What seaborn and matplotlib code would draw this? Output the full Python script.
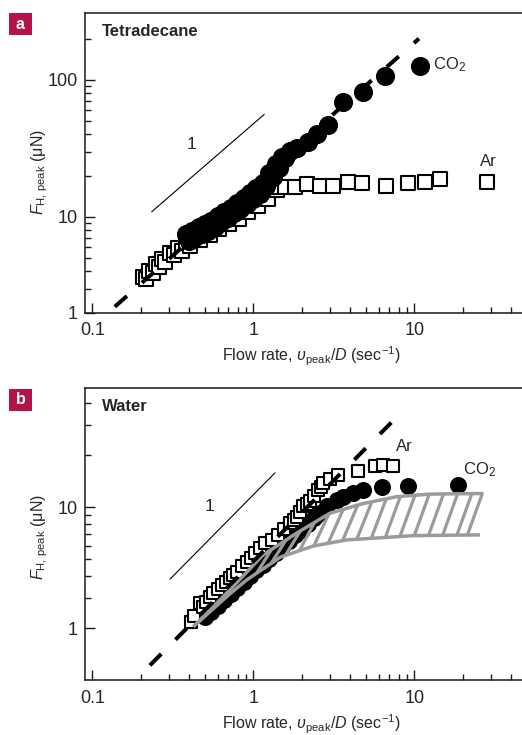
import numpy as np
import matplotlib
matplotlib.use("Agg")
import matplotlib.pyplot as plt
import matplotlib.ticker as mticker
from matplotlib.patches import Rectangle
import seaborn as sns

# ---------------- data ----------------
# panel a : tetradecane
co2_a_x = [0.380, 0.398, 0.417, 0.437, 0.457, 0.479, 0.501, 0.525, 0.550, 0.575,
           0.603, 0.631, 0.661, 0.692, 0.724, 0.759, 0.794, 0.832, 0.871, 0.912,
           0.955, 1.00, 1.047, 1.096, 1.148, 1.202, 1.259, 1.318, 1.380, 1.445,
           1.514, 1.585, 1.698, 1.86, 2.2, 2.48, 2.9, 3.6, 4.8, 6.6, 10.8]
co2_a_y = [7.50, 6.71, 7.93, 7.10, 8.38, 7.50, 8.85, 7.94, 9.40, 8.45,
           10.1, 9.14, 10.9, 9.86, 11.7, 10.6, 12.7, 11.5, 13.7, 12.4,
           14.9, 13.6, 16.3, 14.8, 17.7, 16.8, 20.9, 19.7, 24.3, 22.6,
           27.2, 26.9, 30.2, 32, 35, 40, 47, 69, 82, 107, 126]

ar_a_x = [0.207, 0.216, 0.226, 0.237, 0.248, 0.260, 0.272, 0.285, 0.302, 0.320,
          0.339, 0.359, 0.380, 0.407, 0.437, 0.468, 0.501, 0.537, 0.575, 0.617,
          0.661, 0.708, 0.759, 0.813, 0.871, 0.933, 1.00, 1.07, 1.15, 1.23,
          1.32, 1.41, 1.40, 1.57, 1.82, 2.15, 2.60, 3.14, 3.89, 4.71, 6.67,
          9.18, 11.6, 14.5, 28.2]
ar_a_y = [3.67, 3.52, 4.06, 3.90, 4.51, 4.31, 4.93, 4.70, 5.45, 5.25,
          5.96, 5.64, 6.41, 6.12, 7.05, 6.75, 7.76, 7.41, 8.49, 8.11,
          9.29, 8.87, 10.2, 9.73, 11.3, 10.9, 12.6, 12.1, 14.1, 13.6,
          15.7, 15.8, 16.4, 16.4, 16.6, 17.3, 16.8, 16.8, 18.1, 17.8, 16.8,
          17.8, 18.1, 18.8, 18.1]

fit_a_x = [0.138, 10.7]
fit_a_y = [2.21, 200]
slope_a_x = [0.234, 1.17]
slope_a_y = [10.9, 56]

# panel b : water
co2_b_x = [0.501, 0.550, 0.603, 0.661, 0.724, 0.794, 0.871, 0.955, 1.047, 1.148,
           1.259, 1.380, 1.514, 1.660, 1.820, 1.995, 2.188, 2.399, 2.60, 2.86,
           3.30, 3.62, 4.18, 4.82, 6.27, 9.18, 18.8]
co2_b_y = [2.31, 2.49, 2.70, 2.92, 3.15, 3.41, 3.68, 3.98, 4.31, 4.66,
           5.03, 5.44, 5.89, 6.36, 6.87, 7.43, 8.04, 8.69, 9.23, 10.1,
           11.0, 11.5, 12.1, 12.6, 13.1, 13.3, 13.5]

ar_b_x = [0.409, 0.43, 0.467, 0.489, 0.51, 0.538, 0.565, 0.60, 0.637, 0.68,
          0.716, 0.75, 0.789, 0.85, 0.910, 0.97, 1.03, 1.10, 1.18, 1.30,
          1.43, 1.56, 1.69, 1.78, 1.86, 1.95, 2.05, 2.15, 2.25, 2.40,
          2.54, 2.62, 2.72, 3.0, 3.37, 4.49, 5.70, 6.42, 7.41]
ar_b_y = [2.18, 2.35, 2.79, 2.66, 2.85, 3.04, 3.18, 3.35, 3.56, 3.70,
          3.89, 4.05, 4.25, 4.55, 4.85, 5.10, 5.42, 5.80, 6.19, 6.50,
          6.92, 7.50, 8.09, 8.40, 8.83, 9.40, 10.1, 10.4, 10.8, 11.6,
          12.6, 13.1, 13.8, 14.6, 15.4, 16.1, 17.2, 17.6, 17.2]

fit_b_x = [0.228, 8.15]
fit_b_y = [1.22, 34.6]
slope_b_x = [0.304, 1.365]
slope_b_y = [3.84, 15.8]

# grey hatched band (upper / lower bound)
band_up_x = [0.424, 0.716, 1.15, 1.86, 2.99, 4.82, 7.78, 12.5, 26.9]
band_up_y = [2.04, 3.33, 5.30, 7.08, 9.23, 10.5, 11.5, 11.9, 12.0]
band_lo_x = [0.424, 0.716, 0.91, 1.47, 2.36, 3.80, 9.86, 25.6]
band_lo_y = [2.04, 3.16, 3.80, 5.14, 5.97, 6.47, 6.85, 6.92]
hatch_top_x = [1.30, 1.60, 1.96, 2.40, 2.95, 3.62, 4.45, 5.45, 6.70, 8.20,
               10.1, 12.4, 15.2, 18.6, 22.8, 26.5]

x_major = [0.1, 1, 10]
x_major_labels = ["0.1", "1", "10"]
x_minor = [0.2, 0.3, 0.4, 0.5, 0.6, 0.7, 0.8, 0.9, 2, 3, 4, 5, 6, 7, 8, 9,
           20, 30, 40]
ya_major = [2, 10, 100]
ya_major_labels = ["1", "10", "100"]
ya_minor = [3, 4, 5, 6, 7, 8, 9, 20, 30, 40, 50, 60, 70, 80, 90, 200]
yb_major = [2, 10]
yb_major_labels = ["1", "10"]
yb_minor = [3, 4, 5, 6, 7, 8, 9, 20, 30, 40]

# ---------------- style ----------------
sns.set_style("ticks")
plt.rcParams["font.family"] = ["Liberation Sans", "DejaVu Sans"]
plt.rcParams["mathtext.fontset"] = "custom"
plt.rcParams["mathtext.rm"] = "Liberation Sans"
plt.rcParams["mathtext.it"] = "Liberation Sans:italic"
plt.rcParams["mathtext.bf"] = "Liberation Sans:bold"

RED = "#b3134a"
GREY = "#9b9b9b"
DARK = "#1a1a1a"

fig = plt.figure(figsize=(5.22, 7.35), dpi=100)
ax_a = fig.add_axes([0.1628, 0.5746, 0.8372, 0.4078])
ax_b = fig.add_axes([0.1628, 0.0744, 0.8372, 0.3981])


def style_axis(ax, ylim, ymaj, ymaj_lab, ymin):
    ax.set_xscale("log")
    ax.set_yscale("log")
    ax.set_xlim(0.0901, 46.7)
    ax.set_ylim(*ylim)
    ax.xaxis.set_major_locator(mticker.FixedLocator(x_major))
    ax.xaxis.set_major_formatter(mticker.FixedFormatter(x_major_labels))
    ax.xaxis.set_minor_locator(mticker.FixedLocator(x_minor))
    ax.xaxis.set_minor_formatter(mticker.NullFormatter())
    ax.yaxis.set_major_locator(mticker.FixedLocator(ymaj))
    ax.yaxis.set_major_formatter(mticker.FixedFormatter(ymaj_lab))
    ax.yaxis.set_minor_locator(mticker.FixedLocator(ymin))
    ax.yaxis.set_minor_formatter(mticker.NullFormatter())
    ax.tick_params(which="both", direction="in", width=1.0, color=DARK,
                   top=False, right=False)
    ax.tick_params(which="major", length=7, labelsize=13, pad=5)
    ax.tick_params(axis="x", which="major", pad=7)
    ax.tick_params(which="minor", length=4.5)
    for s in ["left", "bottom", "top"]:
        ax.spines[s].set_linewidth(1.1)
        ax.spines[s].set_color(DARK)
    ax.spines["right"].set_visible(False)
    ax.set_xlabel(r"Flow rate, $\mathit{\upsilon}_{\mathrm{peak}}/\mathit{D}$ (sec$^{-1}$)",
                  fontsize=11.5)
    ax.set_ylabel(r"$\mathit{F}_{\mathrm{H,\,peak}}$ ($\mathrm{\mu}$N)", fontsize=11.5)


# ---------------- panel a ----------------
style_axis(ax_a, (2, 308), ya_major, ya_major_labels, ya_minor)
# here the CO2 band lies over the Ar squares
sns.scatterplot(x=ar_a_x, y=ar_a_y, ax=ax_a, marker="s", s=100,
                facecolor="white", edgecolor="black", linewidth=1.5, zorder=3)
sns.scatterplot(x=co2_a_x, y=co2_a_y, ax=ax_a, marker="o", s=190,
                color="black", edgecolor="black", linewidth=0, zorder=4)
ax_a.plot(fit_a_x, fit_a_y, color="black", lw=2.9, dashes=(4, 5),
          solid_capstyle="butt", zorder=6)
ax_a.plot(slope_a_x, slope_a_y, color="black", lw=0.8, zorder=2)
ax_a.text(0.414, 31.2, "1", fontsize=12.5, ha="center", va="baseline")
ax_a.text(13.1, 120, r"CO$_2$", fontsize=12, ha="left", va="baseline")
ax_a.text(25.6, 23.6, "Ar", fontsize=12, ha="left", va="baseline")
ax_a.text(0.038, 0.9376, "Tetradecane", transform=ax_a.transAxes,
          fontsize=12, fontweight="bold", ha="left", va="center")
ax_a.xaxis.set_label_coords(0.519, -0.108)
ax_a.yaxis.set_label_coords(-0.08, 0.469)

# ---------------- panel b ----------------
style_axis(ax_b, (1.0, 49), yb_major, yb_major_labels, yb_minor)
sns.scatterplot(x=co2_b_x, y=co2_b_y, ax=ax_b, marker="o", s=150,
                color="black", edgecolor="black", linewidth=0, zorder=3)
sns.scatterplot(x=ar_b_x, y=ar_b_y, ax=ax_b, marker="s", s=82,
                facecolor="white", edgecolor="black", linewidth=1.5, zorder=4)

# grey band: two bounds plus slanted hatch strokes between them
ax_b.plot(band_up_x, band_up_y, color=GREY, lw=2.5, zorder=5,
          solid_capstyle="butt")
ax_b.plot(band_lo_x, band_lo_y, color=GREY, lw=2.5, zorder=5,
          solid_capstyle="butt")
lux, luy = np.log10(band_up_x), np.log10(band_up_y)
llx, lly = np.log10(band_lo_x), np.log10(band_lo_y)
for xt in hatch_top_x:
    xb = xt / 1.24
    yt = 10 ** np.interp(np.log10(xt), lux, luy)
    yb = 10 ** np.interp(np.log10(xb), llx, lly)
    ax_b.plot([xb, xt], [yb, yt], color=GREY, lw=2.3, zorder=5,
              solid_capstyle="butt")

ax_b.plot(fit_b_x, fit_b_y, color="black", lw=2.9, dashes=(4, 5),
          solid_capstyle="butt", zorder=6)
ax_b.plot(slope_b_x, slope_b_y, color="black", lw=0.8, zorder=2)
ax_b.text(0.538, 9.55, "1", fontsize=12.5, ha="center", va="baseline")
ax_b.text(7.7, 21.2, "Ar", fontsize=12, ha="left", va="baseline")
ax_b.text(20.0, 15.4, r"CO$_2$", fontsize=12, ha="left", va="baseline")
ax_b.text(0.038, 0.935, "Water", transform=ax_b.transAxes,
          fontsize=12, fontweight="bold", ha="left", va="center")
ax_b.xaxis.set_label_coords(0.519, -0.112)
ax_b.yaxis.set_label_coords(-0.08, 0.49)

# ---------------- panel letters ----------------
for letter, y0 in [("a", 0.952), ("b", 0.4412)]:
    fig.patches.append(Rectangle((0.01724, y0), 0.0435, 0.0302,
                                 transform=fig.transFigure, facecolor=RED,
                                 edgecolor="none"))
    fig.text(0.01724 + 0.0435 / 2, y0 + 0.0302 / 2, letter, color="white",
             fontsize=11.5, fontweight="bold", ha="center", va="center")

plt.savefig("out.png", dpi=100)
